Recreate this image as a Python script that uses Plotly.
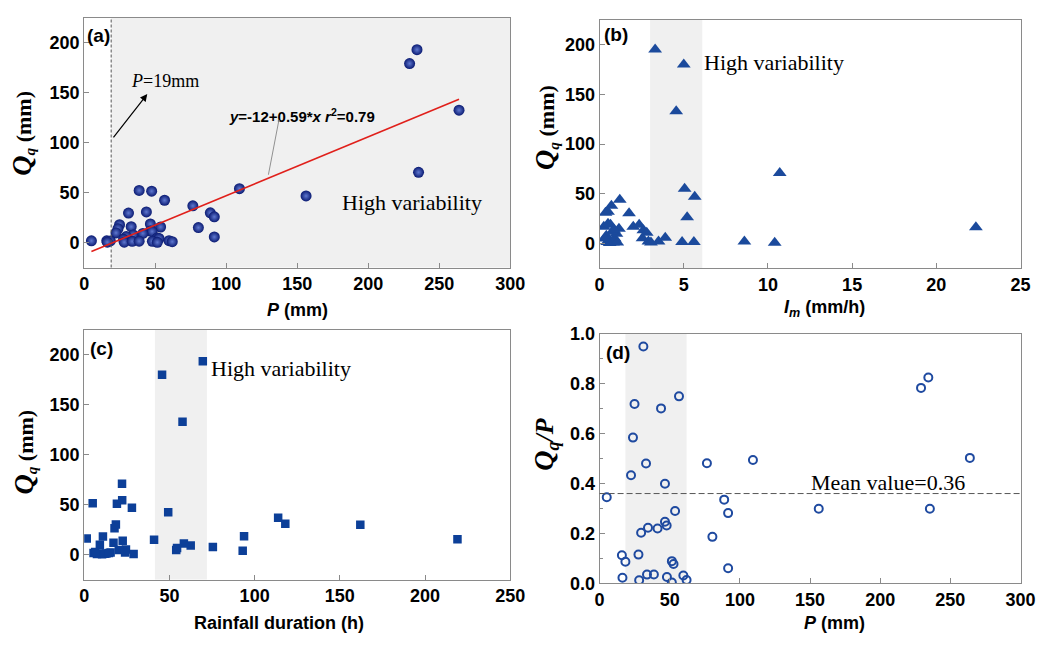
import plotly.graph_objects as go

# ---------------- data ----------------
# rainfall P (mm) and quickflow Qq (mm) per event
P_mm = [5.1, 31.2, 24.9, 43.8, 56.6, 23.8, 33.1, 22.4, 46.6, 76.5, 109.3, 263.9, 229.1,
        234.3, 88.8, 91.6, 156.2, 235.4, 53.8, 46.6, 47.8, 34.5, 41.3, 29.6, 80.4, 15.9,
        27.7, 18.4, 51.5, 52.7, 91.6, 16.3, 28.2, 33.8, 38.7, 48.0, 51.5, 59.7, 62.0,
        38.7, 47.5]
Qq_mm = [1.76, 29.6, 17.9, 30.7, 42.4, 13.9, 15.9, 9.7, 18.6, 36.8, 54.0, 132.7, 179.4,
         193.3, 29.8, 25.8, 46.7, 70.4, 15.6, 11.5, 11.1, 7.7, 9.1, 6.0, 15.0, 1.8,
         3.2, 1.6, 4.6, 4.1, 5.6, 0.37, 0.37, 1.2, 1.4, 1.25, 0.2, 1.9, 0.87,
         52.2, 51.5]

# maximum rainfall intensity Im (mm/h) vs Qq
Im_mmh = [3.3, 5.0, 4.55, 10.7, 5.05, 5.65, 5.2, 22.35, 1.2, 0.7, 0.5, 0.35, 1.75,
          0.25, 0.5, 0.65, 1.15, 2.0, 2.35, 2.6, 2.8, 2.55, 2.9, 3.5, 3.9, 4.9, 5.6,
          8.6, 10.4, 0.4, 0.55, 0.6, 0.8, 0.9, 1.0, 0.75, 0.45, 1.05, 0.3, 0.85, 3.05]
Qq_im = [195, 180, 133, 71, 55, 47, 26.5, 16.5, 44, 38, 32, 31, 30.5,
         17, 20, 19, 15, 17, 19, 13.5, 11, 5.5, 2, 2, 6, 1.5, 1.5,
         2, 0.8, 8, 3, 0.5, 1, 5, 10, 12, 1.5, 1, 5, 14, 1]

# rainfall duration (h) vs Qq
Dur_h = [69.6, 45.7, 57.7, 22.2, 5.0, 19.2, 22.3, 28.0, 49.3, 113.8, 118.0, 162.0, 219.0,
         93.8, 93.0, 75.5, 62.5, 58.5, 54.0, 54.5, 41.0, 1.5, 11.0, 17.8, 18.6, 17.2,
         22.6, 9.2, 24.5, 20.3, 29.0, 5.5, 7.5, 10.5, 13.0, 15.5, 24.0, 9.0, 6.5, 12.0, 14.5]
Qq_dur = [193.5, 180, 133, 71, 51.5, 51, 54.5, 47, 42.4, 36.8, 31, 30, 15.5,
          18.5, 3.8, 7.6, 9, 11, 4.5, 6.5, 14.8, 16.2, 18.2, 26.5, 30.2, 11.8,
          13.8, 9.8, 5.2, 4.5, 0.5, 1.5, 0.5, 0.3, 1, 2, 2, 1.2, 2.5, 0.8, 1.6]

# linear fit Qq = a + b*P, threshold rainfall, mean runoff coefficient
fit_a, fit_b, fit_r2 = -12, 0.59, 0.79
P_threshold = 19
mean_ratio = 0.36

# high-variability bands
band_a = [19, 300]
band_b = [3.0, 6.1]
band_c = [41.5, 72]
band_d = [18.4, 62]

ratio = [q / p for q, p in zip(Qq_mm, P_mm)]

# ---------------- styling ----------------
W, H = 1062, 649
SANS = "Liberation Sans"
SERIF = "Liberation Serif"
FRAME = "#8a8a8a"
BAND = "#f0f0f0"


def axis(domain, rng, dtick, anchor):
    return dict(
        domain=domain, range=rng, dtick=dtick, anchor=anchor,
        showgrid=False, zeroline=False,
        showline=True, linecolor=FRAME, linewidth=1, mirror=True,
        ticks="inside", ticklen=5, tickcolor=FRAME, tickwidth=1,
        minor=dict(ticks="inside", ticklen=3, tickcolor=FRAME, nticks=2),
        tickfont=dict(family=SANS, size=18, color="black", weight="bold"),
    )


fig = go.Figure()

# (a) Qq vs P
fig.add_trace(go.Scatter(
    x=P_mm, y=Qq_mm, mode="markers", xaxis="x", yaxis="y",
    marker=dict(size=11, color="#0a1a72", line=dict(width=0),
                gradient=dict(type="radial", color="#5f78d0")),
))
p_lo, p_hi = min(P_mm), max(P_mm)
fig.add_trace(go.Scatter(
    x=[p_lo, p_hi], y=[fit_a + fit_b * p_lo, fit_a + fit_b * p_hi],
    mode="lines", xaxis="x", yaxis="y", line=dict(color="#e0201b", width=1.6),
))

# (b) Qq vs Im
fig.add_trace(go.Scatter(
    x=Im_mmh, y=Qq_im, mode="markers", xaxis="x2", yaxis="y2",
    marker=dict(symbol="triangle-up", size=12, color="#1b4a9c", line=dict(width=0)),
))

# (c) Qq vs duration
fig.add_trace(go.Scatter(
    x=Dur_h, y=Qq_dur, mode="markers", xaxis="x3", yaxis="y3",
    marker=dict(symbol="square", size=8.5, color="#0c3f98", line=dict(width=0)),
))

# (d) Qq/P vs P
fig.add_trace(go.Scatter(
    x=P_mm, y=ratio, mode="markers", xaxis="x4", yaxis="y4",
    marker=dict(symbol="circle-open", size=8, color="#1f4aa0", line=dict(width=2)),
))

dx_l = [80.7 / W, 515 / W]
dx_r = [606 / W, 1035 / W]

fig.update_layout(
    width=W, height=H, autosize=False,
    margin=dict(l=0, r=0, t=0, b=0),
    paper_bgcolor="white", plot_bgcolor="white",
    showlegend=False,
    xaxis=axis(dx_l, [0, 300], 50, "y"),
    yaxis=axis([1 - 265.7 / H, 1 - 8.3 / H], [-25, 225], 50, "x"),
    xaxis2=axis(dx_r, [0, 25], 5, "y2"),
    yaxis2=axis([1 - 266.7 / H, 1 - 10 / H], [-25, 225], 50, "x2"),
    xaxis3=axis(dx_l, [0, 250], 50, "y3"),
    yaxis3=axis([1 - 587.7 / H, 1 - 330 / H], [-25, 225], 50, "x3"),
    xaxis4=axis(dx_r, [0, 300], 50, "y4"),
    yaxis4=axis([1 - 591.7 / H, 1 - 334 / H], [0, 1], 0.2, "x4"),
)
fig.update_layout(yaxis4=dict(tickformat=".1f"))

shapes = []
for xr, yr, band in [("x", "y", band_a), ("x2", "y2", band_b),
                     ("x3", "y3", band_c), ("x4", "y4", band_d)]:
    shapes.append(dict(type="rect", xref=xr, yref=yr + " domain",
                       x0=band[0], x1=band[1], y0=0, y1=1,
                       fillcolor=BAND, line=dict(width=0), layer="below"))
shapes.append(dict(type="line", xref="x", yref="y domain", x0=P_threshold, x1=P_threshold,
                   y0=0, y1=1, line=dict(color="#555555", width=1, dash="3px,2px")))
shapes.append(dict(type="line", xref="x4 domain", yref="y4", x0=0, x1=1,
                   y0=mean_ratio, y1=mean_ratio,
                   line=dict(color="#555555", width=1, dash="6px,3px")))
fig.update_layout(shapes=shapes)

ann = []
# panel tags
for tag, x, y in [("(a)", 82, 26), ("(b)", 608, 25), ("(c)", 85, 349), ("(d)", 611, 353)]:
    ann.append(dict(text=tag, xref="paper", yref="paper", x=x / W, y=1 - y / H,
                    xanchor="left", yanchor="middle", showarrow=False,
                    font=dict(family=SANS, size=19, color="black", weight="bold")))

# axis titles
qq_title = "<i><span style='font-size:28px'>Q</span><sub>q</sub></i> (mm)"
for x, y in [(17, 127), (551, 121), (20, 456)]:
    ann.append(dict(text=qq_title, xref="paper", yref="paper", x=x / W, y=1 - y / H,
                    xanchor="center", yanchor="middle", textangle=-90, showarrow=False,
                    font=dict(family=SERIF, size=22, color="black", weight="bold")))
ann.append(dict(text="<i><span style='font-size:28px'>Q</span><sub>q</sub>/P</i>",
                xref="paper", yref="paper", x=551 / W, y=1 - 448 / H,
                xanchor="center", yanchor="middle", textangle=-90, showarrow=False,
                font=dict(family=SERIF, size=26, color="black", weight="bold")))

xt_font = dict(family=SANS, size=18, color="black", weight="bold")
for text, x, y in [("<i>P</i> (mm)", 298, 310),
                   ("<i>I<sub>m</sub></i> (mm/h)", 835, 308),
                   ("Rainfall duration (h)", 279, 632),
                   ("<i>P</i> (mm)", 845.5, 632)]:
    ann.append(dict(text=text, xref="paper", yref="paper", x=x / W, y=1 - y / H,
                    xanchor="center", yanchor="middle", showarrow=False, font=xt_font))

hv_font = dict(family=SERIF, size=22, color="black")
ann.append(dict(text="High variability", xref="x", yref="y", x=231, y=40,
                showarrow=False, font=hv_font))
ann.append(dict(text="High variability", xref="x2", yref="y2", x=6.1, y=182,
                xanchor="left", showarrow=False, font=hv_font))
ann.append(dict(text="High variability", xref="x3", yref="y3", x=73.5, y=186,
                xanchor="left", showarrow=False, font=hv_font))
ann.append(dict(text=f"Mean value={mean_ratio}", xref="x4", yref="y4", x=149, y=mean_ratio,
                xanchor="left", yanchor="bottom", yshift=-3, showarrow=False,
                font=dict(family=SERIF, size=22, color="black")))

# threshold label and arrow
ann.append(dict(text=f"<i>P</i>={P_threshold}mm", xref="x", yref="y", x=31.5, y=162,
                xanchor="left", yanchor="middle", showarrow=False,
                font=dict(family=SERIF, size=18, color="black")))
ann.append(dict(text="", xref="x", yref="y", x=44.4, y=148.8,
                axref="x", ayref="y", ax=19.8, ay=103.8,
                showarrow=True, arrowhead=2, arrowsize=1.2, arrowwidth=1.2,
                arrowcolor="black"))

# fit equation with leader line
ann.append(dict(text=f"<i>y</i>={fit_a}+{fit_b}*<i>x</i> <i>r</i><sup>2</sup>={fit_r2}",
                xref="x", yref="y", x=153.6, y=127, showarrow=False,
                font=dict(family=SANS, size=15, color="black", weight="bold")))
ann.append(dict(text="", xref="x", yref="y", x=137, y=122,
                axref="x", ayref="y", ax=129.5, ay=66.5,
                showarrow=True, arrowhead=7, arrowsize=0.6, arrowwidth=0.8,
                arrowcolor="#777777"))

fig.update_layout(annotations=ann)

fig.write_html("out.html")
